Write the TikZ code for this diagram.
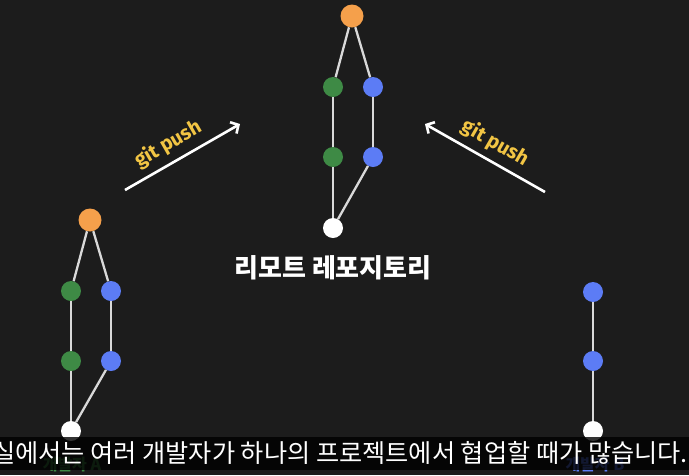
\documentclass[tikz,border=0pt]{standalone}
\usepackage{fontspec}
\setmainfont{Noto Sans}
\newfontfamily\krfont{Noto Sans CJK KR}
\newfontfamily\pushfont{Fira Sans}
\usetikzlibrary{arrows.meta}
\definecolor{bgc}{HTML}{1C1C1C}
\definecolor{orng}{HTML}{F5A04B}
\definecolor{grn}{HTML}{3E8A45}
\definecolor{blu}{HTML}{5C7CF5}
\definecolor{edgec}{HTML}{D9D9D9}
\definecolor{ylw}{HTML}{F2C544}
\tikzset{
  commit/.style={circle, minimum size=20pt, inner sep=0pt, draw=none},
  bigcommit/.style={circle, minimum size=23pt, inner sep=0pt, draw=none},
  link/.style={draw=edgec, line width=2.3pt},
  pusharrow/.style={draw=white, line width=2.6pt, -{Straight Barb[length=6pt, width=13pt, line width=2.6pt]}},
  pushlabel/.style={text=ylw, font=\pushfont\bfseries\fontsize{20}{20}\selectfont, inner sep=0pt},
  devlabel/.style={font=\krfont\bfseries\fontsize{16}{16}\selectfont, inner sep=0pt},
}
\begin{document}
\begin{tikzpicture}[x=1pt, y=-1pt]
\useasboundingbox (0,0) rectangle (689,475);
\fill[bgc] (0,0) rectangle (689,475);

% central remote repository graph
\node[bigcommit, fill=orng] (ro) at (352,16) {};
\node[commit, fill=grn] (rg1) at (333,87) {};
\node[commit, fill=blu] (rb1) at (373,87) {};
\node[commit, fill=grn] (rg2) at (333,157) {};
\node[commit, fill=blu] (rb2) at (373,157) {};
\node[commit, fill=white] (rw) at (333,228) {};
\draw[link] (ro) -- (rg1);
\draw[link] (ro) -- (rb1);
\draw[link] (rg1) -- (rg2);
\draw[link] (rb1) -- (rb2);
\draw[link] (rg2) -- (rw);
\draw[link] (rb2) -- (rw);
\node[font=\krfont\bfseries\fontsize{26}{26}\selectfont, text=white, inner sep=0pt] (rtitle) at (333,268) {리모트 레포지토리};

% developer A graph
\node[bigcommit, fill=orng] (ao) at (90,220) {};
\node[commit, fill=grn] (ag1) at (71,291) {};
\node[commit, fill=blu] (ab1) at (111,291) {};
\node[commit, fill=grn] (ag2) at (71,361) {};
\node[commit, fill=blu] (ab2) at (111,361) {};
\node[commit, fill=white] (aw) at (71,431) {};
\draw[link] (ao) -- (ag1);
\draw[link] (ao) -- (ab1);
\draw[link] (ag1) -- (ag2);
\draw[link] (ab1) -- (ab2);
\draw[link] (ag2) -- (aw);
\draw[link] (ab2) -- (aw);

% developer B graph
\node[commit, fill=blu] (bb1) at (593,292) {};
\node[commit, fill=blu] (bb2) at (593,361) {};
\node[commit, fill=white] (bw) at (593,431) {};
\draw[link] (bb1) -- (bb2);
\draw[link] (bb2) -- (bw);

% push arrows
\coordinate (la1) at (125,190);
\coordinate (la2) at (240,124);
\coordinate (ra1) at (545,192);
\coordinate (ra2) at (425,124);
\draw[pusharrow] (la1) -- (la2);
\draw[pusharrow] (ra1) -- (ra2);
\node[pushlabel, rotate=30] (lpush) at (168,144) {git push};
\node[pushlabel, rotate=-30] (rpush) at (495,143) {git push};

% developer labels (partly hidden by subtitle bar)
\node[devlabel, text=grn] (alabel) at (72,465) {개발자 A};
\node[devlabel, text=blu] (blabel) at (595,465) {개발자 B};

% subtitle bar
\fill[black, opacity=0.8] (0,437) rectangle (689,470);
\begin{scope}
\clip (0,437) rectangle (689,470);
\node[anchor=east, text=white, font=\krfont\fontsize{25.2}{25.2}\selectfont, inner sep=0pt] (sub) at (688,453) {현실에서는 여러 개발자가 하나의 프로젝트에서 협업할 때가 많습니다.};
\end{scope}
\end{tikzpicture}
\end{document}
